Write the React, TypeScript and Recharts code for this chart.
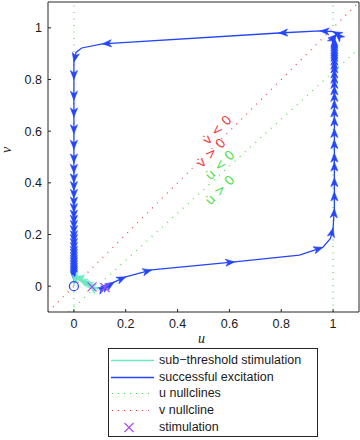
import React from 'react';
import { ComposedChart, Line, Scatter, XAxis, YAxis, ReferenceDot } from 'recharts';

const axisTicks = [0, 0.2, 0.4, 0.6, 0.8, 1];
const tickLabels = ['0', '0.2', '0.4', '0.6', '0.8', '1'];

// u nullclines: u = 0, u = 1 and the slanted threshold line
const uNullZeroU = [0, 0];
const uNullZeroV = [-0.1, 1.1];
const uNullOneU = [1, 1];
const uNullOneV = [-0.1, 1.1];
const uNullSlantU = [-0.02, 1.1];
const uNullSlantV = [-0.1, 0.92];

// v nullcline
const vNullU = [-0.1, 1.1];
const vNullV = [-0.1, 1.1];

// sub-threshold trajectory
const subU = [0.07, 0.062, 0.05, 0.038, 0.026, 0.016, 0.008, 0.003, 0.0];
const subV = [-0.003, 0.004, 0.011, 0.017, 0.023, 0.027, 0.026, 0.018, 0.006];

// successful excitation trajectory
const excU = [
  0.115, 0.125, 0.14, 0.155, 0.2, 0.3, 0.62, 0.87, 0.96, 0.99,
  1.0, 1.005, 1.005, 1.005, 1.005, 1.005, 1.005, 1.005, 1.005, 1.005,
  1.005, 1.005, 1.005, 1.005, 1.005, 1.005, 1.005, 1.005, 1.005, 1.005,
  1.005, 1.005, 1.005, 1.005, 1.005, 1.005, 1.01, 1.015, 1.01, 1.0,
  0.95, 0.79, 0.11, 0.03, 0.008, 0.0, 0.0, 0.0, 0.0, 0.0,
  0.0, 0.0, 0.0, 0.0, 0.0, 0.0, 0.0, 0.0, 0.0, 0.0,
  0.0, 0.0, 0.0, 0.0, 0.0, 0.0, 0.0, 0.0, 0.0, 0.0,
  0.0, 0.0, 0.0, 0.0, 0.0, 0.0, 0.0,
];
const excV = [
  -0.008, -0.003, 0.006, 0.016, 0.036, 0.063, 0.094, 0.12, 0.15, 0.185,
  0.225, 0.3, 0.365, 0.42, 0.48, 0.515, 0.567, 0.61, 0.655, 0.69,
  0.72, 0.75, 0.775, 0.8, 0.82, 0.84, 0.86, 0.875, 0.89, 0.905,
  0.915, 0.925, 0.935, 0.945, 0.955, 0.963, 0.97, 0.975, 0.98, 0.985,
  0.988, 0.98, 0.938, 0.922, 0.905, 0.868, 0.8, 0.72, 0.655, 0.59,
  0.53, 0.477, 0.437, 0.4, 0.37, 0.34, 0.31, 0.285, 0.26, 0.24,
  0.22, 0.2, 0.18, 0.165, 0.15, 0.135, 0.12, 0.108, 0.096, 0.085,
  0.075, 0.065, 0.055, 0.046, 0.038, 0.03, 0.022,
];
// points of the excitation path where the curve bends without an arrowhead
const excBends = [7, 9, 43, 44];

const stimU = [0.07, 0.12];
const stimV = [-0.003, -0.005];
const restU = [0];
const restV = [0];

const CYAN = '#6ee8c2';
const BLUE = '#2446fa';
const GREEN = '#4cdc4c';
const RED = '#f03c3c';
const MAGENTA = '#a94cf5';
const INK = '#262626';

const zip = (us: number[], vs: number[]) => us.map((u, i) => ({ u, v: vs[i] }));

const arrowDot = (us: number[], vs: number[], color: string, skip: number[] = []) => (props: any) => {
  const { cx, cy, index } = props;
  if (index === 0 || skip.includes(index) || cx == null || cy == null) return <g key={`a${index}`} />;
  const du = us[index] - us[index - 1];
  const dv = vs[index] - vs[index - 1];
  const ang = (Math.atan2(-dv, du) * 180) / Math.PI;
  return (
    <path
      key={`a${index}`}
      d="M0,0 L-9,-3.6 L-6.5,0 L-9,3.6 Z"
      fill={color}
      stroke={color}
      strokeWidth={0.6}
      transform={`translate(${cx},${cy}) rotate(${ang})`}
    />
  );
};

const CrossShape = (p: any) => (
  <path
    d={`M${p.cx - 4.5},${p.cy - 4.5} L${p.cx + 4.5},${p.cy + 4.5} M${p.cx - 4.5},${p.cy + 4.5} L${p.cx + 4.5},${p.cy - 4.5}`}
    stroke={MAGENTA}
    strokeWidth={1.2}
    fill="none"
  />
);

const RingShape = (p: any) => <circle cx={p.cx} cy={p.cy} r={4.5} stroke={BLUE} strokeWidth={1.2} fill="none" />;

const note = (text: string, color: string) => (p: any) => (
  <text
    x={p.cx}
    y={p.cy}
    fill={color}
    fontSize={13}
    fontFamily="'DejaVu Sans', sans-serif"
    textAnchor="middle"
    dominantBaseline="central"
    transform={`rotate(-45 ${p.cx} ${p.cy})`}
  >
    {text}
  </text>
);

const tickFont = { fontSize: 12.5, fill: '#1a1a1a', fontFamily: "'Liberation Sans', Arial, sans-serif" };

const legendRows = [
  { label: 'sub\u2212threshold stimulation', kind: 'line', color: CYAN },
  { label: 'successful excitation', kind: 'line', color: BLUE },
  { label: 'u nullclines', kind: 'dots', color: GREEN },
  { label: 'v nullcline', kind: 'dots', color: RED },
  { label: 'stimulation', kind: 'cross', color: MAGENTA },
];

const LegendBox = () => (
  <div
    style={{
      position: 'absolute',
      left: 108,
      top: 348,
      width: 208,
      height: 87,
      border: `1px solid ${INK}`,
      background: '#fff',
      fontFamily: "'Liberation Sans', Arial, sans-serif",
      fontSize: 12.5,
      color: '#1a1a1a',
    }}
  >
    {legendRows.map((r, i) => (
      <div key={r.label} style={{ position: 'absolute', left: 0, top: 3 + i * 16.7, height: 17, width: 208 }}>
        <svg width={46} height={17} style={{ position: 'absolute', left: 1, top: 0 }}>
          {r.kind === 'line' && <line x1={1} x2={44} y1={8.5} y2={8.5} stroke={r.color} strokeWidth={1.5} />}
          {r.kind === 'dots' && (
            <line x1={2} x2={44} y1={8.5} y2={8.5} stroke={r.color} strokeWidth={1.2} strokeDasharray="1 5" />
          )}
          {r.kind === 'cross' && (
            <path d="M14.5,4 L23.5,13 M14.5,13 L23.5,4" stroke={r.color} strokeWidth={1.2} fill="none" />
          )}
        </svg>
        <span style={{ position: 'absolute', left: 50, top: 0, lineHeight: '17px', whiteSpace: 'nowrap' }}>{r.label}</span>
      </div>
    ))}
  </div>
);

export default function App() {
  return (
    <div style={{ position: 'absolute', left: 0, top: 0, width: 360, height: 440, background: '#fff' }}>
      <ComposedChart width={360} height={440} margin={{ top: 1, right: 0, bottom: 98, left: 0 }}>
        <XAxis
          xAxisId={0}
          dataKey="u"
          type="number"
          domain={[-0.1, 1.1]}
          ticks={axisTicks}
          tickFormatter={(t: number) => tickLabels[axisTicks.indexOf(t)] ?? String(t)}
          allowDataOverflow
          height={30}
          stroke={INK}
          tickSize={-3}
          tickMargin={10}
          tick={tickFont}
          label={{
            content: ({ viewBox }: any) => (
              <text
                x={viewBox.x + viewBox.width / 2 - 2}
                y={viewBox.y + 31}
                textAnchor="middle"
                fontFamily="'Liberation Serif', serif"
                fontStyle="italic"
                fontSize={14}
                fill="#1a1a1a"
              >
                u
              </text>
            ),
          }}
        />
        <XAxis
          xAxisId="top"
          orientation="top"
          type="number"
          domain={[-0.1, 1.1]}
          ticks={axisTicks}
          allowDataOverflow
          height={1}
          stroke={INK}
          tickSize={-3}
          tick={false}
        />
        <YAxis
          yAxisId={0}
          dataKey="v"
          type="number"
          domain={[-0.1, 1.1]}
          ticks={axisTicks}
          tickFormatter={(t: number) => tickLabels[axisTicks.indexOf(t)] ?? String(t)}
          allowDataOverflow
          width={48}
          stroke={INK}
          tickSize={-3}
          tickMargin={9}
          tick={tickFont}
          label={{
            content: ({ viewBox }: any) => (
              <text
                x={viewBox.x + 11}
                y={viewBox.y + 148}
                textAnchor="middle"
                fontFamily="'Liberation Serif', serif"
                fontStyle="italic"
                fontSize={14}
                fill="#1a1a1a"
                transform={`rotate(-90 ${viewBox.x + 11} ${viewBox.y + 148})`}
              >
                v
              </text>
            ),
          }}
        />
        <YAxis
          yAxisId="right"
          orientation="right"
          type="number"
          domain={[-0.1, 1.1]}
          ticks={axisTicks}
          allowDataOverflow
          width={1}
          stroke={INK}
          tickSize={-3}
          tick={false}
        />

        <Line data={zip(uNullZeroU, uNullZeroV)} dataKey="v" stroke={GREEN} strokeWidth={1.2} strokeDasharray="1 5.5" dot={false} isAnimationActive={false} />
        <Line data={zip(uNullOneU, uNullOneV)} dataKey="v" stroke={GREEN} strokeWidth={1.2} strokeDasharray="1 5.5" dot={false} isAnimationActive={false} />
        <Line data={zip(uNullSlantU, uNullSlantV)} dataKey="v" stroke={GREEN} strokeWidth={1.2} strokeDasharray="1 6" dot={false} isAnimationActive={false} />
        <Line data={zip(vNullU, vNullV)} dataKey="v" stroke={RED} strokeWidth={1.2} strokeDasharray="1 6" dot={false} isAnimationActive={false} />

        <Line data={zip(excU, excV)} dataKey="v" stroke={BLUE} strokeWidth={1.3} dot={arrowDot(excU, excV, BLUE, excBends)} activeDot={false} isAnimationActive={false} />
        <Line data={zip(subU, subV)} dataKey="v" stroke={CYAN} strokeWidth={1.3} dot={arrowDot(subU, subV, CYAN)} activeDot={false} isAnimationActive={false} />

        <Scatter data={zip(stimU, stimV)} shape={CrossShape} isAnimationActive={false} />
        <Scatter data={zip(restU, restV)} shape={RingShape} isAnimationActive={false} />

        <ReferenceDot x={0.552} y={0.605} r={0} shape={note('v\u0307 < 0', RED)} />
        <ReferenceDot x={0.529} y={0.516} r={0} shape={note('v\u0307 > 0', RED)} />
        <ReferenceDot x={0.563} y={0.469} r={0} shape={note('u\u0307 < 0', GREEN)} />
        <ReferenceDot x={0.563} y={0.372} r={0} shape={note('u\u0307 > 0', GREEN)} />
      </ComposedChart>
      <LegendBox />
    </div>
  );
}
